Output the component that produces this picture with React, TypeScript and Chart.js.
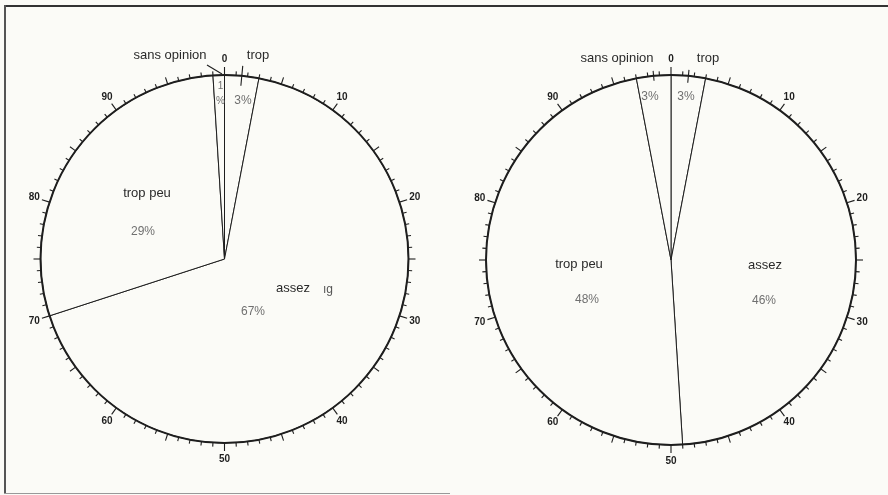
import React, { useEffect, useRef } from "react";
import { Chart, registerables } from "chart.js";

Chart.register(...registerables);

const CATEGORIES = ["trop", "assez", "trop peu", "sans opinion"];
const LEFT_VALUES = [3, 67, 29, 1];
const RIGHT_VALUES = [3, 46, 48, 3];
const TICK_LABELS = ["0", "10", "20", "30", "40", "50", "60", "70", "80", "90"];
const SCALE_MAX = 100;

const BG = "#fbfbf7";
const INK = "#1e1e1e";
const GRAY = "#707070";
const FONT = "'Liberation Sans', Arial, sans-serif";

type Note = { text: string; dx: number; dy: number; kind: "label" | "pct" | "small" | "faint" };
type Marker = { value: number; r0: number; r1: number };
type Leader = { x0: number; y0: number; x1: number; y1: number };

const LEFT_NOTES: Note[] = [
  { text: "sans opinion", dx: -54.5, dy: -204, kind: "label" },
  { text: "trop", dx: 33.5, dy: -204, kind: "label" },
  { text: "1", dx: -4, dy: -173, kind: "small" },
  { text: "%", dx: -4, dy: -158, kind: "small" },
  { text: "3%", dx: 18.5, dy: -158, kind: "pct" },
  { text: "trop peu", dx: -77.5, dy: -66, kind: "label" },
  { text: "29%", dx: -81.5, dy: -27, kind: "pct" },
  { text: "assez", dx: 68.5, dy: 29, kind: "label" },
  { text: "67%", dx: 28.5, dy: 53, kind: "pct" },
  { text: "ıg", dx: 103.5, dy: 31, kind: "faint" },
];
const RIGHT_NOTES: Note[] = [
  { text: "sans opinion", dx: -54, dy: -202, kind: "label" },
  { text: "trop", dx: 37, dy: -202, kind: "label" },
  { text: "3%", dx: -21, dy: -163, kind: "pct" },
  { text: "3%", dx: 15, dy: -163, kind: "pct" },
  { text: "trop peu", dx: -92, dy: 4, kind: "label" },
  { text: "48%", dx: -84, dy: 40, kind: "pct" },
  { text: "assez", dx: 94, dy: 5, kind: "label" },
  { text: "46%", dx: 93, dy: 41, kind: "pct" },
];

function makeDialPlugin(notes: Note[], markers: Marker[], leaders: Leader[]) {
  return {
    id: "dial",
    afterDatasetsDraw(chart: any) {
      const arc = chart.getDatasetMeta(0).data[0];
      if (!arc) return;
      const { x, y, outerRadius: R } = arc.getProps(["x", "y", "outerRadius"], true);
      const ctx = chart.ctx as CanvasRenderingContext2D;
      ctx.save();
      ctx.strokeStyle = INK;
      ctx.lineWidth = 2;
      ctx.beginPath();
      ctx.arc(x, y, R, 0, Math.PI * 2);
      ctx.stroke();
      ctx.lineWidth = 1.1;
      for (let i = 0; i < SCALE_MAX; i++) {
        const a = -Math.PI / 2 + (i / SCALE_MAX) * Math.PI * 2;
        const len = i % 10 === 0 ? 8 : i % 5 === 0 ? 7 : 4;
        ctx.beginPath();
        ctx.moveTo(x + Math.cos(a) * R, y + Math.sin(a) * R);
        ctx.lineTo(x + Math.cos(a) * (R + len), y + Math.sin(a) * (R + len));
        ctx.stroke();
      }
      ctx.fillStyle = INK;
      ctx.font = `bold 10px ${FONT}`;
      ctx.textAlign = "center";
      ctx.textBaseline = "middle";
      TICK_LABELS.forEach((t) => {
        const v = Number(t);
        const a = -Math.PI / 2 + (v / SCALE_MAX) * Math.PI * 2;
        const rr = R + 16;
        ctx.fillText(t, x + Math.cos(a) * rr, y + Math.sin(a) * rr);
      });
      ctx.lineWidth = 1.1;
      markers.forEach((m) => {
        const a = -Math.PI / 2 + (m.value / SCALE_MAX) * Math.PI * 2;
        ctx.beginPath();
        ctx.moveTo(x + Math.cos(a) * (R + m.r0), y + Math.sin(a) * (R + m.r0));
        ctx.lineTo(x + Math.cos(a) * (R + m.r1), y + Math.sin(a) * (R + m.r1));
        ctx.stroke();
      });
      leaders.forEach((l) => {
        ctx.beginPath();
        ctx.moveTo(x + l.x0, y + l.y0);
        ctx.lineTo(x + l.x1, y + l.y1);
        ctx.stroke();
      });
      notes.forEach((n) => {
        if (n.kind === "label") {
          ctx.font = `13px ${FONT}`;
          ctx.fillStyle = "#2a2a2a";
        } else if (n.kind === "pct") {
          ctx.font = `12px ${FONT}`;
          ctx.fillStyle = GRAY;
        } else if (n.kind === "small") {
          ctx.font = `10px ${FONT}`;
          ctx.fillStyle = GRAY;
        } else {
          ctx.font = `12px ${FONT}`;
          ctx.fillStyle = "#555";
        }
        ctx.fillText(n.text, x + n.dx, y + n.dy);
      });
      ctx.restore();
    },
  };
}

function PieDial(props: {
  values: number[];
  radius: number;
  padding: { left: number; right: number; top: number; bottom: number };
  notes: Note[];
  markers: Marker[];
  leaders: Leader[];
  left: number;
}) {
  const ref = useRef<HTMLCanvasElement>(null);
  useEffect(() => {
    if (!ref.current) return;
    const chart = new Chart(ref.current, {
      type: "pie",
      data: {
        labels: CATEGORIES,
        datasets: [
          {
            data: props.values,
            backgroundColor: CATEGORIES.map(() => BG),
            borderColor: INK,
            borderWidth: 1,
            hoverOffset: 0,
            radius: props.radius,
          } as any,
        ],
      },
      options: {
        animation: false,
        responsive: false,
        devicePixelRatio: 1,
        events: [],
        layout: { padding: props.padding },
        plugins: { legend: { display: false }, tooltip: { enabled: false } },
      },
      plugins: [makeDialPlugin(props.notes, props.markers, props.leaders)],
    });
    return () => chart.destroy();
  }, []);
  return (
    <canvas
      ref={ref}
      width={444}
      height={495}
      style={{ position: "absolute", left: props.left, top: 0, width: 444, height: 495 }}
    />
  );
}

export default function App() {
  return (
    <div
      style={{
        position: "fixed",
        left: 0,
        top: 0,
        width: 888,
        height: 495,
        background: BG,
        overflow: "hidden",
      }}
    >
      <div style={{ position: "absolute", left: 4, top: 5, width: 884, height: 0, borderTop: "2px solid #333" }} />
      <div style={{ position: "absolute", left: 4, top: 5, width: 0, height: 488, borderLeft: "2px solid #555" }} />
      <div style={{ position: "absolute", left: 4, top: 493, width: 446, height: 0, borderTop: "1px solid #999" }} />
      <PieDial
        values={LEFT_VALUES}
        radius={184}
        padding={{ left: 5, right: 0, top: 23, bottom: 0 }}
        notes={LEFT_NOTES}
        markers={[{ value: 1.5, r0: -10, r1: 10 }]}
        leaders={[{ x0: -17.5, y0: -194, x1: -2.5, y1: -185 }]}
        left={0}
      />
      <PieDial
        values={RIGHT_VALUES}
        radius={185}
        padding={{ left: 10, right: 0, top: 25, bottom: 0 }}
        notes={RIGHT_NOTES}
        markers={[
          { value: 1.5, r0: -7, r1: 6 },
          { value: 98.5, r0: -5, r1: 5 },
        ]}
        leaders={[]}
        left={444}
      />
    </div>
  );
}
